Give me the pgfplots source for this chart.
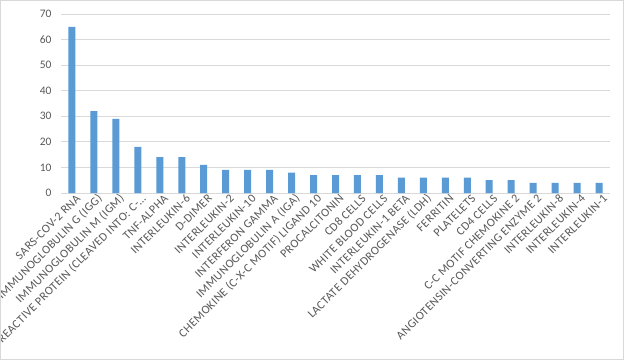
\documentclass[border=0pt]{standalone}
\usepackage{pgfplots}
\pgfplotsset{compat=1.18}
\usepackage{fontspec}
\setmainfont{Carlito}
\definecolor{barblue}{HTML}{5B9BD5}
\definecolor{gridgray}{HTML}{D9D9D9}
\definecolor{txtgray}{HTML}{595959}
\begin{document}
\begin{tikzpicture}[x=1bp,y=1bp]
\path[use as bounding box] (0,0) rectangle (624,360);
\clip (0,0) rectangle (624,360);
\fill[white] (0,0) rectangle (624,360);
\begin{axis}[
  at={(61bp,167bp)}, anchor=south west,
  scale only axis, width=549bp, height=179bp,
  xmin=-0.5, xmax=24.5, ymin=0, ymax=70,
  ytick={0,10,...,70},
  ymajorgrids, grid style={gridgray, line width=0.75bp},
  axis x line*=bottom, axis y line*=left,
  x axis line style={gridgray, line width=0.75bp, -},
  y axis line style={draw=none},
  major tick length=0,
  xtick=data,
  xticklabels={SARS-COV-2 RNA, IMMUNOGLOBULIN G (IGG), IMMUNOGLOBULIN M (IGM), {C-REACTIVE PROTEIN (CLEAVED INTO: C-…}, TNF-ALPHA, INTERLEUKIN-6, D-DIMER, INTERLEUKIN-2, INTERLEUKIN-10, INTERFERON GAMMA, IMMUNOGLOBULIN A (IGA), CHEMOKINE (C-X-C MOTIF) LIGAND 10, PROCALCITONIN, CD8 CELLS, WHITE BLOOD CELLS, INTERLEUKIN-1 BETA, LACTATE DEHYDROGENASE (LDH), FERRITIN, PLATELETS, CD4 CELLS, C-C MOTIF CHEMOKINE 2, ANGIOTENSIN-CONVERTING ENZYME 2, INTERLEUKIN-8, INTERLEUKIN-4, INTERLEUKIN-1},
  xticklabel style={rotate=45, anchor=east, font=\addfontfeatures{LetterSpace=3}\fontsize{12}{14}\selectfont, text=txtgray, xshift=3bp, yshift=-7bp, inner sep=1bp},
  yticklabel style={font=\fontsize{11.5}{13}\selectfont, text=txtgray, xshift=-6bp},
  /pgf/number format/assume math mode=true,
  ybar, bar width=7bp,
]
\addplot[fill=barblue, draw=none] coordinates {
(0,65) (1,32) (2,29) (3,18) (4,14) (5,14) (6,11) (7,9) (8,9) (9,9)
(10,8) (11,7) (12,7) (13,7) (14,7) (15,6) (16,6) (17,6) (18,6) (19,5)
(20,5) (21,4) (22,4) (23,4) (24,4)};
\end{axis}
\draw[gridgray, line width=1bp] (0.5,0.5) rectangle (623.5,359.5);
\end{tikzpicture}
\end{document}
